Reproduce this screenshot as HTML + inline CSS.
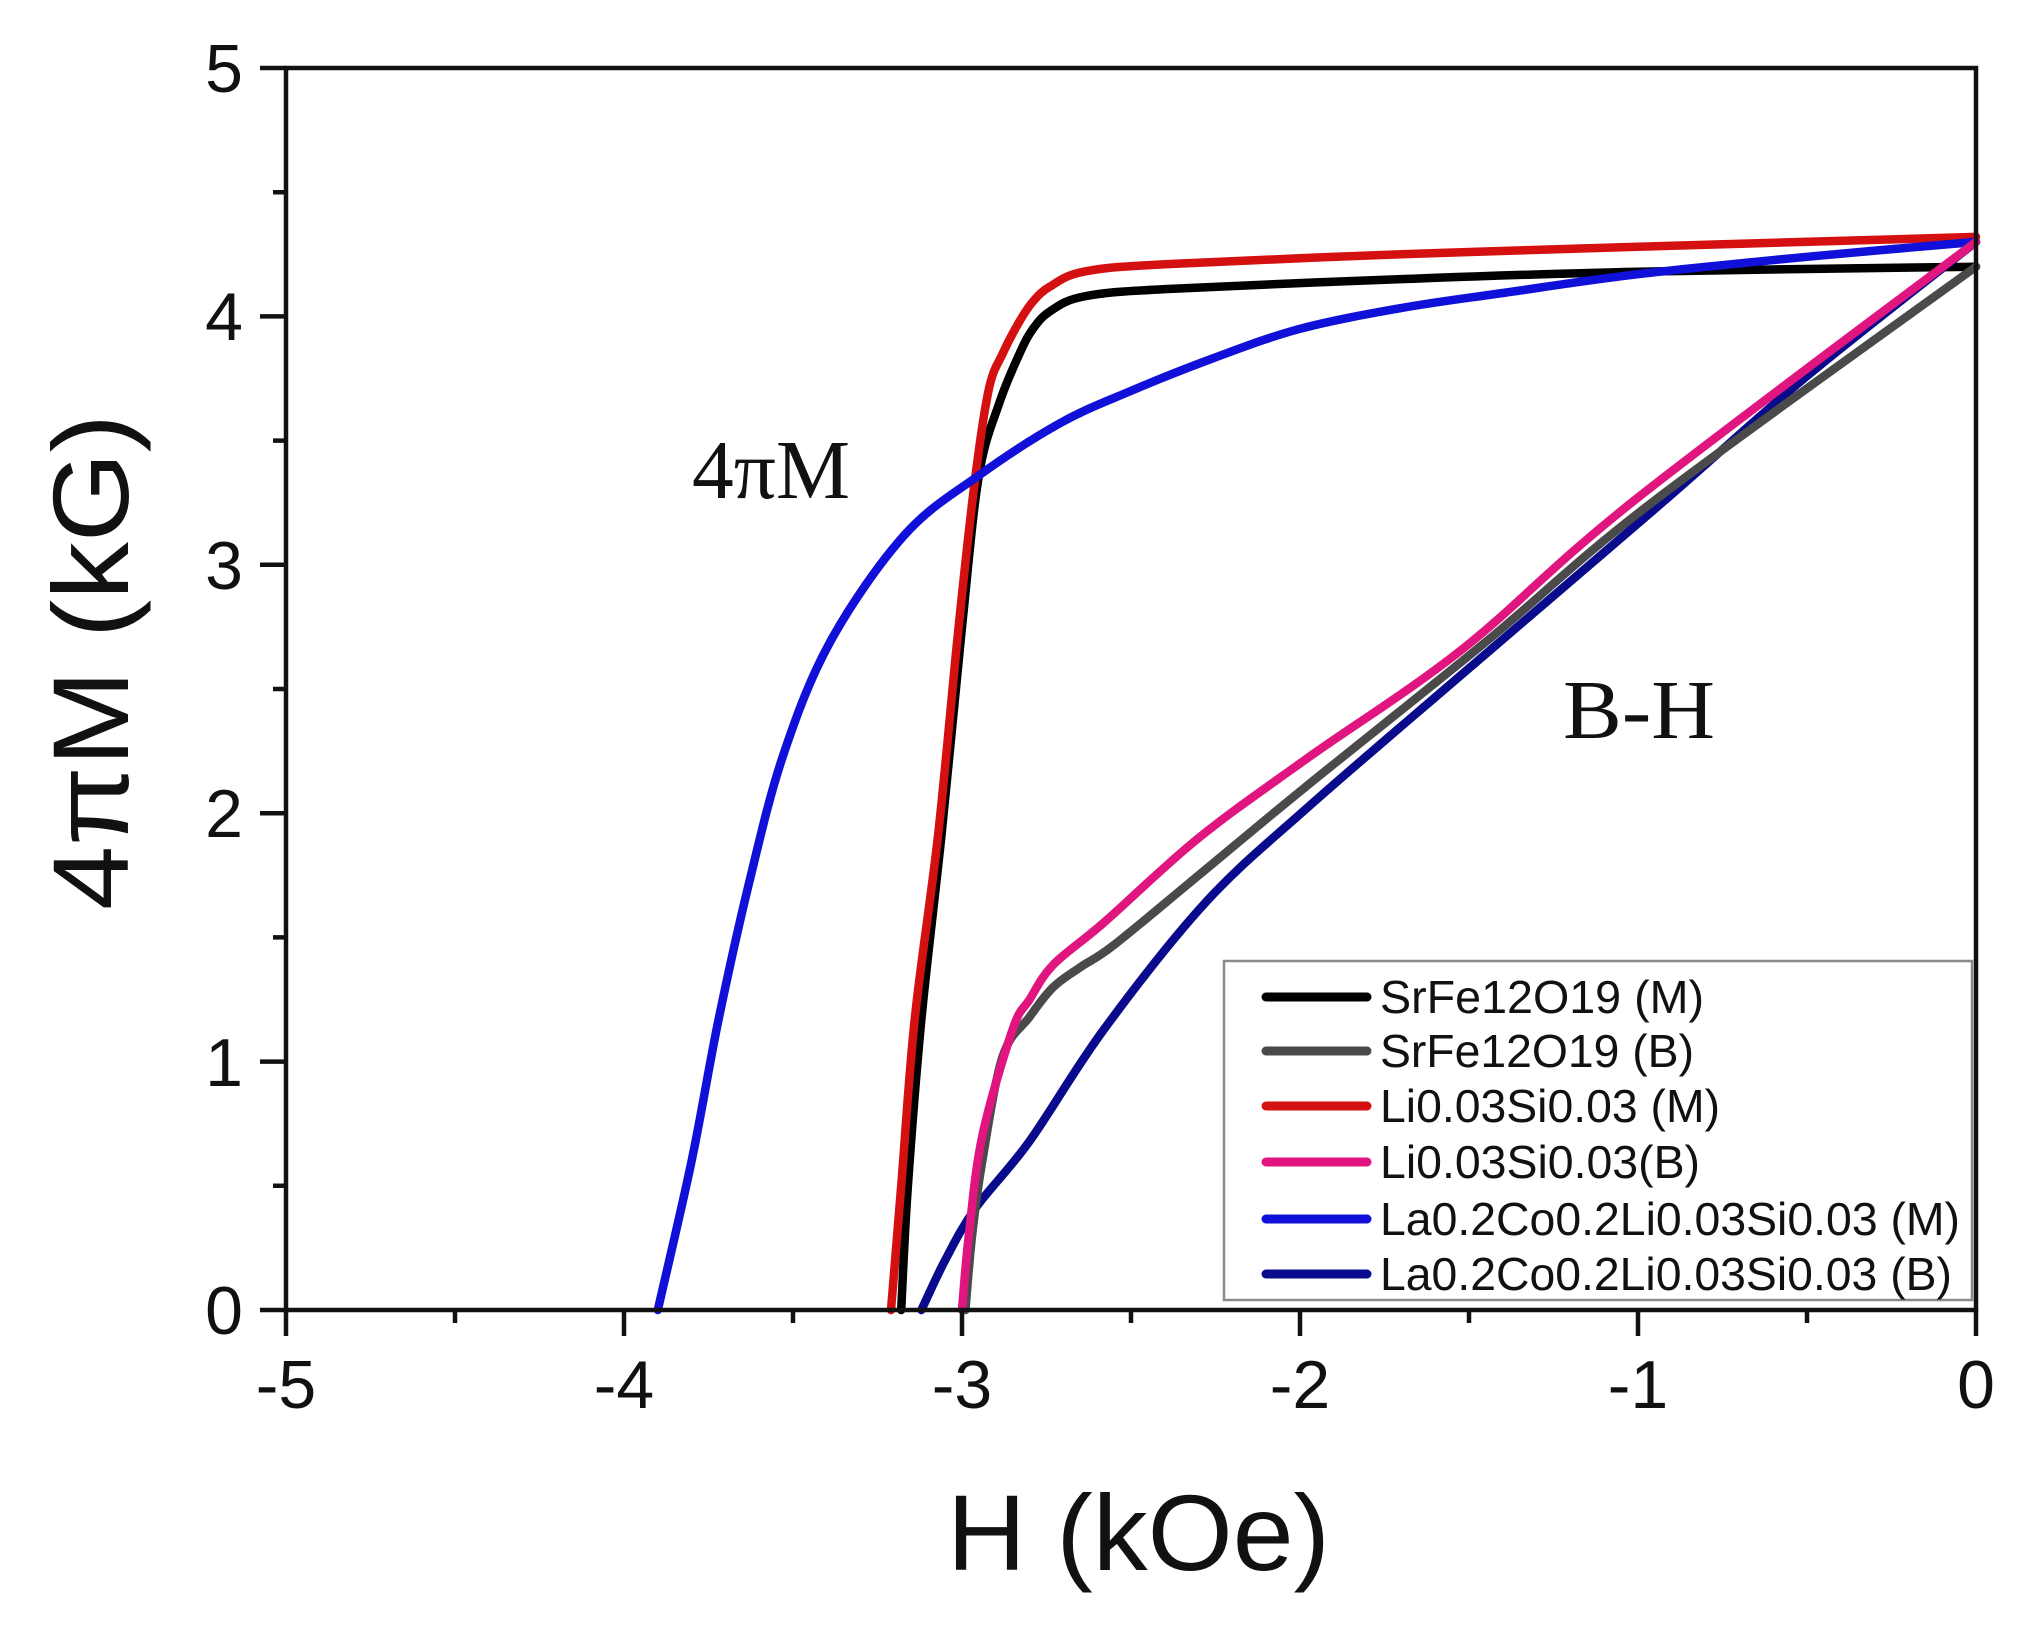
<!DOCTYPE html>
<html><head><meta charset="utf-8"><style>html,body{margin:0;padding:0;background:#fff}svg{display:block}</style></head>
<body>
<svg id="s" width="2030" height="1626" viewBox="0 0 2030 1626" xmlns="http://www.w3.org/2000/svg">
<rect width="2030" height="1626" fill="#fff"/>
<g id="curves" fill="none" stroke-width="8.5" stroke-linejoin="round" stroke-linecap="round">
<polyline stroke="#000" points="1976,266.7 1638,271.7 1401.4,279.1 1164.8,289.1 1083.7,296.5 1049.9,311.4 1033,328.8 1019.5,353.7 999.2,403.3 978.9,475.4 962,626.9 941.7,833.1 921.4,1019.4 907.9,1185.8 901.2,1310"/>
<polyline stroke="#d41010" points="1976,236.9 1638,246.8 1401.4,254.3 1164.8,264.2 1083.7,271.7 1049.9,286.6 1033,301.5 1019.5,321.4 1002.6,353.7 989,388.4 975.5,475.6 958.6,626.9 938.3,833.1 914.7,1019.4 901.2,1185.8 891,1310"/>
<polyline stroke="#1010d8" points="1976,241.9 1807,256.8 1638,274.2 1502.8,293 1401.4,308 1300,328.8 1212.1,358.6 1131,390.9 1060,423.2 978.9,475.4 904.5,535 830.2,641.8 782.9,756.1 749.1,882.8 718.6,1019.4 691.6,1161 657.8,1310"/>
<polyline stroke="#0a0a8c" points="1976,241.9 1807,376 1665,500.2 1462.2,674.1 1306.8,808.2 1205.4,902.6 1104,1029.3 1029.6,1141.1 975.5,1208.2 945.1,1260.3 921.4,1310"/>
<polyline stroke="#4a4a4a" points="1976,266.7 1654.9,500.2 1485.9,641.8 1306.8,785.9 1198.6,875.3 1114.1,944.9 1080.3,967.2 1053.3,987.1 1029.6,1016.9 1002.6,1056.6 982.3,1161 972.1,1235.5 965.4,1310"/>
<polyline stroke="#e0157f" points="1976,241.9 1634.6,500.2 1462.2,649.3 1306.8,758.6 1198.6,838 1104,922.5 1053.3,964.7 1029.6,999.5 1012.7,1029.3 982.3,1136.1 968.8,1235.5 962,1310"/>
</g>
<rect x="1224" y="961" width="748" height="339" fill="#fff" stroke="#8a8a8a" stroke-width="2.5"/>
<g stroke-width="9" stroke-linecap="round">
<line x1="1266" y1="997" x2="1367" y2="997" stroke="#000"/>
<line x1="1266" y1="1051" x2="1367" y2="1051" stroke="#4a4a4a"/>
<line x1="1266" y1="1106" x2="1367" y2="1106" stroke="#d41010"/>
<line x1="1266" y1="1162" x2="1367" y2="1162" stroke="#e0157f"/>
<line x1="1266" y1="1219" x2="1367" y2="1219" stroke="#1010d8"/>
<line x1="1266" y1="1274" x2="1367" y2="1274" stroke="#0a0a8c"/>
</g>
<g font-family="Liberation Sans, Arial, sans-serif" font-size="46" fill="#111">
<text x="1380" y="1013" textLength="324" lengthAdjust="spacingAndGlyphs">SrFe12O19 (M)</text>
<text x="1380" y="1067" textLength="314" lengthAdjust="spacingAndGlyphs">SrFe12O19 (B)</text>
<text x="1380" y="1122" textLength="340" lengthAdjust="spacingAndGlyphs">Li0.03Si0.03 (M)</text>
<text x="1380" y="1178" textLength="320" lengthAdjust="spacingAndGlyphs">Li0.03Si0.03(B)</text>
<text x="1380" y="1235" textLength="580" lengthAdjust="spacingAndGlyphs">La0.2Co0.2Li0.03Si0.03 (M)</text>
<text x="1380" y="1290" textLength="572" lengthAdjust="spacingAndGlyphs">La0.2Co0.2Li0.03Si0.03 (B)</text>
</g>
<g stroke="#111" stroke-width="4.5" fill="none">
<rect x="286" y="68" width="1690" height="1242"/>
<path d="M286,1310V1336M624,1310V1336M962,1310V1336M1300,1310V1336M1638,1310V1336M1976,1310V1336"/>
<path d="M455,1310V1323M793,1310V1323M1131,1310V1323M1469,1310V1323M1807,1310V1323"/>
<path d="M286,1310H260M286,1061.6H260M286,813.2H260M286,564.8H260M286,316.4H260M286,68H260"/>
<path d="M286,1185.8H273M286,937.4H273M286,689H273M286,440.6H273M286,192.2H273"/>
</g>
<g font-family="Liberation Sans, Arial, sans-serif" font-size="68" fill="#111">
<g text-anchor="end">
<text x="243" y="1334">0</text>
<text x="243" y="1086">1</text>
<text x="243" y="837">2</text>
<text x="243" y="589">3</text>
<text x="243" y="340">4</text>
<text x="243" y="92">5</text>
</g>
<g text-anchor="middle">
<text x="286" y="1408">-5</text>
<text x="624" y="1408">-4</text>
<text x="962" y="1408">-3</text>
<text x="1300" y="1408">-2</text>
<text x="1638" y="1408">-1</text>
<text x="1976" y="1408">0</text>
</g>
</g>
<text x="947" y="1570" font-family="Liberation Sans, Arial, sans-serif" font-size="108" fill="#111" textLength="383" lengthAdjust="spacingAndGlyphs">H (kOe)</text>
<text transform="translate(128,910) rotate(-90)" font-family="Liberation Sans, Arial, sans-serif" font-size="108" fill="#111" textLength="496" lengthAdjust="spacingAndGlyphs">4πM (kG)</text>
<g font-family="Liberation Serif, 'Times New Roman', serif" font-size="84" fill="#111">
<text x="692" y="498" textLength="158" lengthAdjust="spacingAndGlyphs">4πM</text>
<text x="1563" y="738" textLength="152" lengthAdjust="spacingAndGlyphs">B-H</text>
</g>
</svg>
<script>
(function(){
var ns="http://www.w3.org/2000/svg";
var pls=document.querySelectorAll('#curves polyline');
for(var k=0;k<pls.length;k++){
 var pl=pls[k];
 var p=pl.getAttribute('points').trim().split(/\s+/).map(function(s){return s.split(',').map(Number);});
 var d='M'+p[0][0]+','+p[0][1];
 for(var i=0;i<p.length-1;i++){
  var p0=p[i-1]||p[i],p1=p[i],p2=p[i+1],p3=p[i+2]||p[i+1];
  var t=1/6;
  var c1=[p1[0]+(p2[0]-p0[0])*t,p1[1]+(p2[1]-p0[1])*t];
  var c2=[p2[0]-(p3[0]-p1[0])*t,p2[1]-(p3[1]-p1[1])*t];
  d+='C'+c1[0].toFixed(1)+','+c1[1].toFixed(1)+' '+c2[0].toFixed(1)+','+c2[1].toFixed(1)+' '+p2[0]+','+p2[1];
 }
 var path=document.createElementNS(ns,'path');
 path.setAttribute('d',d);
 path.setAttribute('stroke',pl.getAttribute('stroke'));
 pl.parentNode.replaceChild(path,pl);
}
})();
</script>
</body></html>
